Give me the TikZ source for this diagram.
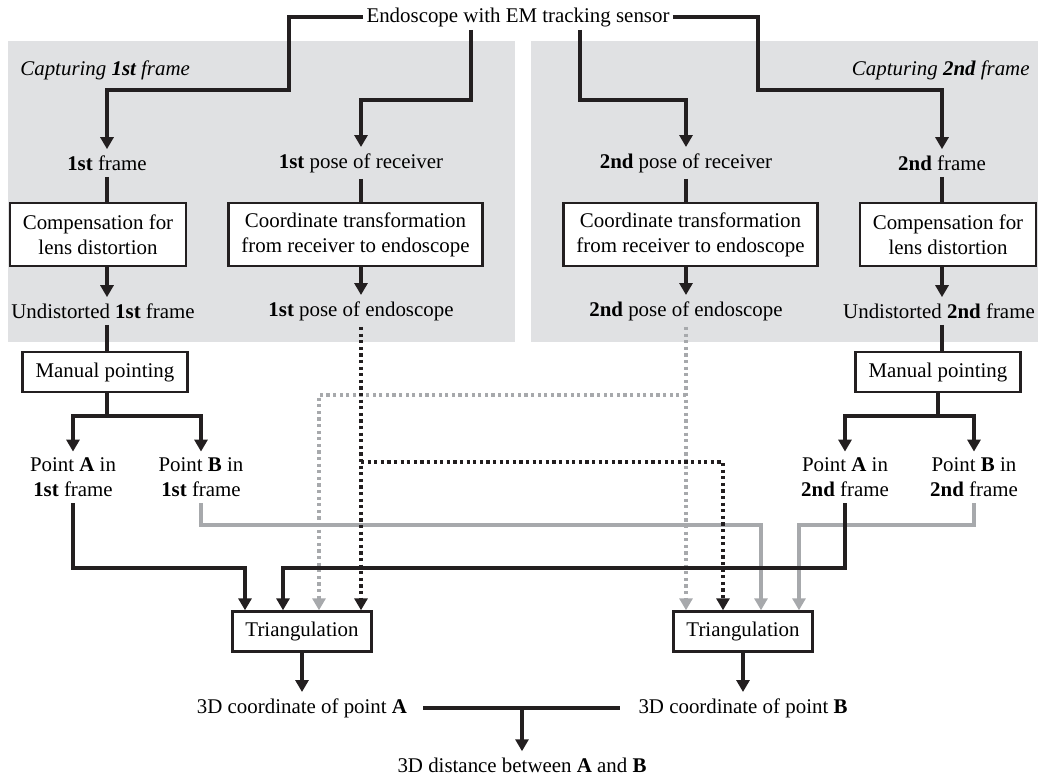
\documentclass[tikz,border=0pt]{standalone}
\usepackage{fontspec}
\setmainfont{Liberation Serif}
\usetikzlibrary{arrows.meta}
\definecolor{EMInk}{HTML}{231F20}
\definecolor{EMGrey}{HTML}{A7A9AC}
\definecolor{EMPanel}{HTML}{E0E1E3}
\tikzset{
  embox/.style={
    draw=EMInk,
    line width=1.2pt,
    fill=white,
    align=center,
    inner xsep=6.5pt,
    inner ysep=3pt,
    minimum height=20pt
  },
  emtext/.style={align=center,inner sep=3pt},
  emline/.style={draw=EMInk,line width=1.8pt},
  emflow/.style={emline,-{Triangle[width=6.5pt,length=6pt]}},
  emgrey/.style={emflow,draw=EMGrey},
  emdot/.style={emflow,dash pattern=on 1.6pt off 1.7pt},
  emgreydot/.style={emgrey,dash pattern=on 1.6pt off 1.7pt},
  empanel/.style={fill=EMPanel}
}

\begin{document}
\begin{tikzpicture}[
  x=0.5pt,y=-0.5pt,
  font=\fontsize{10.45pt}{12.5pt}\selectfont,
  twoline/.style={embox,minimum height=31.5pt}
]
  \useasboundingbox (0,0) rectangle (1040,778);
  \fill[empanel] (8,41) rectangle (515,342);
  \fill[empanel] (531,41) rectangle (1038,342);

  \node[emtext,inner sep=1.5pt] (sensor) at (518,17) {Endoscope with EM tracking sensor};
  \node[emtext,anchor=west] (titleA) at (14,70) {\textit{Capturing \textbf{1st} frame}};
  \node[emtext,anchor=east] (titleB) at (1036,70) {\textit{Capturing \textbf{2nd} frame}};

  \node[emtext] (frameA) at (107,163) {\textbf{1st} frame};
  \node[emtext] (recvA) at (361,163) {\textbf{1st} pose of receiver};
  \node[emtext] (recvB) at (686,163) {\textbf{2nd} pose of receiver};
  \node[emtext] (frameB) at (942,163) {\textbf{2nd} frame};

  \node[twoline] (compA) at (98,234.5) {Compensation for\\lens distortion};
  \node[twoline] (coordA) at (355.5,234.5) {Coordinate transformation\\from receiver to endoscope};
  \node[twoline] (coordB) at (690.5,234.5) {Coordinate transformation\\from receiver to endoscope};
  \node[twoline] (compB) at (948,234.5) {Compensation for\\lens distortion};

  \node[emtext] (undA) at (103,311) {Undistorted \textbf{1st} frame};
  \node[emtext] (poseA) at (361,311) {\textbf{1st} pose of endoscope};
  \node[emtext] (poseB) at (686,311) {\textbf{2nd} pose of endoscope};
  \node[emtext] (undB) at (939,311) {Undistorted \textbf{2nd} frame};

  \node[embox] (manA) at (105,372) {Manual pointing};
  \node[embox] (manB) at (938,372) {Manual pointing};

  \node[emtext] (ptA1) at (73,477.5) {Point \textbf{A} in\\\textbf{1st} frame};
  \node[emtext] (ptB1) at (201,477.5) {Point \textbf{B} in\\\textbf{1st} frame};
  \node[emtext] (ptA2) at (845,477.5) {Point \textbf{A} in\\\textbf{2nd} frame};
  \node[emtext] (ptB2) at (974,477.5) {Point \textbf{B} in\\\textbf{2nd} frame};

  \node[embox] (triA) at (302,631.5) {Triangulation};
  \node[embox] (triB) at (743,631.5) {Triangulation};

  \node[emtext] (posA3d) at (302,708) {3D coordinate of point \textbf{A}};
  \node[emtext] (posB3d) at (743,708) {3D coordinate of point \textbf{B}};
  \node[emtext] (dist) at (522,765) {3D distance between \textbf{A} and \textbf{B}};

  \draw[emflow] (sensor.west) -| (289,90) -| (frameA.north);
  \draw[emflow] (471,0 |- sensor.south) |- (361,100) -- (recvA.north);
  \draw[emflow] (580,0 |- sensor.south) |- (686,100) -- (recvB.north);
  \draw[emflow] (sensor.east) -| (758,90) -| (frameB.north);

  \draw[emline] (frameA.south) -- (frameA.south |- compA.north);
  \draw[emflow] (frameA |- compA.south) -- (frameA |- undA.north);
  \draw[emline] (frameA |- undA.south) -- (frameA |- manA.north);
  \draw[emflow] (frameA |- manA.south) -- ++(0,23) -| (ptA1.north);
  \draw[emflow] (frameA |- manA.south) -- ++(0,23) -| (ptB1.north);
  \draw[emline] (recvA.south) -- (recvA.south |- coordA.north);
  \draw[emflow] (recvA |- coordA.south) -- (poseA.north);

  \draw[emline] (recvB.south) -- (recvB.south |- coordB.north);
  \draw[emflow] (recvB |- coordB.south) -- (poseB.north);
  \draw[emline] (frameB.south) -- (frameB.south |- compB.north);
  \draw[emflow] (frameB |- compB.south) -- (frameB |- undB.north);
  \draw[emline] (frameB |- undB.south) -- (frameB |- manB.north);
  \draw[emflow] (manB.south) -- ++(0,23) -| (ptA2.north);
  \draw[emflow] (manB.south) -- ++(0,23) -| (ptB2.north);

  \draw[emgreydot] (poseB.south) -- (poseB |- triB.north);
  \draw[emgreydot] (poseB |- 0,395) -| (319,0 |- triA.north);
  \draw[emgrey] (ptB1.south) |- (761,525) -- (761,0 |- triB.north);
  \draw[emgrey] (ptB2.south) |- (799,525) -- (799,0 |- triB.north);
  \draw[emdot] (poseA.south) -- (poseA |- triA.north);
  \draw[emdot] (poseA |- 0,462) -| (723,0 |- triB.north);
  \draw[emflow] (ptA1.south) |- (245,568) -- (245,0 |- triA.north);
  \draw[emflow] (ptA2.south) |- (283,568) -- (283,0 |- triA.north);

  \draw[emflow] (triA.south) -- (posA3d.north);
  \draw[emflow] (triB.south) -- (posB3d.north);
  \draw[emline] ([xshift=5pt]posA3d.east) -- ([xshift=-6pt]posB3d.west);
  \draw[emflow] (dist |- posA3d) -- (dist.north);
\end{tikzpicture}
\end{document}
